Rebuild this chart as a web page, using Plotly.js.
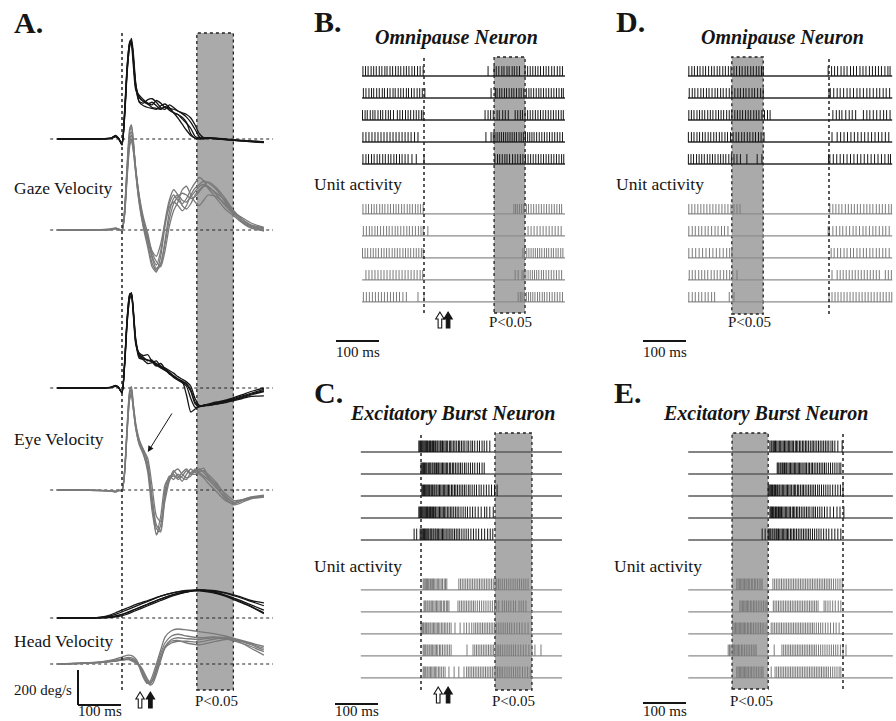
<!DOCTYPE html>
<html>
<head>
<meta charset="utf-8">
<script src="https://cdn.plot.ly/plotly-3.0.1.min.js"></script>
<style>
  html, body { margin: 0; padding: 0; background: #fff; }
  #fig { width: 896px; height: 721px; }
</style>
</head>
<body>
<div id="fig"></div>
<script>
// ---------------- Panel A: velocity traces (deg/s), time in ms from gaze onset ----------------
const tSacc = [-150,-100,-50,-25,-15,-8,0,6,12,18,22,26,32,40,50,60,70,80,90,100,110,120,130,140,150,160,170,180,190,200,220,240,260,280,300,330];
const tHead = [-150,-100,-70,-50,-30,-10,10,30,60,90,120,150,180,210,240,270,300,330];
const tHeadGray = [-150,-100,-50,-20,0,15,25,35,42,50,58,65,72,80,90,100,115,130,150,180,210,240,270,300,330];

const gazeVelBlack = [
  [0,0,2,5,20,5,-30,150,400,550,560,470,300,235,215,200,210,190,170,185,165,150,140,115,90,60,15,5,5,8,5,0,-5,-8,-12,-15],
  [0,1,0,4,15,0,-25,120,380,540,575,500,320,210,190,180,175,170,190,200,180,150,120,85,50,20,5,0,5,6,3,-2,-6,-10,-14,-18],
  [0,0,1,6,18,3,-35,140,410,560,540,430,280,250,225,205,195,220,205,180,175,170,160,145,125,95,55,12,0,4,2,-3,-8,-12,-16,-20],
  [0,-1,0,3,12,2,-28,130,390,530,555,480,310,240,215,200,180,175,170,185,175,150,140,125,95,30,5,8,6,5,0,-4,-8,-10,-12,-16],
  [0,0,1,5,16,4,-30,160,420,545,550,460,290,215,205,225,230,210,180,170,195,180,160,150,140,120,80,30,8,5,2,-2,-6,-9,-13,-17]
];
const gazeVelGray = [
  [0,0,2,5,10,5,0,120,380,580,600,520,330,150,10,-100,-210,-240,-150,20,150,200,170,150,180,230,270,300,280,240,180,120,80,40,10,-5],
  [0,0,1,4,8,3,-5,100,350,540,560,500,350,180,30,-80,-190,-230,-200,-60,100,180,200,170,160,190,220,250,260,250,200,140,90,50,20,0],
  [0,1,0,3,7,4,0,90,320,500,520,460,320,160,20,-60,-150,-200,-120,50,170,230,200,140,120,150,200,230,250,245,210,170,100,60,30,10],
  [0,0,2,6,12,6,-3,110,360,560,590,520,340,170,40,-50,-120,-150,-80,40,130,160,140,110,140,200,240,260,280,270,230,160,95,45,15,-5],
  [0,0,1,4,9,4,0,95,330,520,540,490,350,190,50,-40,-160,-220,-190,-80,60,150,190,210,200,180,190,220,250,275,240,180,110,60,25,5],
  [0,0,1,3,8,2,0,80,300,480,510,460,340,200,70,-20,-130,-180,-210,-120,20,110,160,230,250,200,160,140,170,200,190,150,100,70,40,15]
];
const eyeVelBlack = [
  [0,0,1,4,15,3,-25,140,390,530,540,440,260,170,165,160,150,140,120,110,90,70,50,35,20,-20,-90,-105,-100,-98,-90,-80,-65,-50,-35,-15],
  [0,0,0,3,12,2,-30,120,370,520,545,460,280,190,175,155,160,130,115,100,85,60,45,30,10,-60,-110,-108,-100,-95,-85,-75,-60,-45,-30,-8],
  [0,1,0,5,14,4,-28,150,400,540,530,430,250,200,185,190,150,125,140,110,80,65,50,40,-40,-137,-120,-105,-100,-97,-88,-78,-68,-55,-40,-20],
  [0,0,1,3,10,1,-22,130,380,510,525,450,270,180,160,140,145,155,125,115,100,85,65,50,35,10,-60,-100,-104,-100,-92,-84,-72,-60,-48,-45],
  [0,0,0,4,13,3,-26,135,395,535,535,445,265,185,170,160,150,135,118,105,88,68,52,38,25,-10,-80,-102,-98,-92,-80,-70,-55,-38,-20,0]
];
const eyeVelGray = [
  [0,0,-3,-5,-8,-2,0,110,370,570,590,500,370,280,210,100,-120,-250,-150,30,70,90,60,80,110,90,120,100,80,60,10,-40,-70,-55,-40,-30],
  [0,0,-2,-4,-10,-3,-5,100,350,550,570,480,360,270,230,150,-40,-200,-230,0,80,60,90,70,60,100,110,90,70,40,-10,-60,-80,-60,-45,-35],
  [0,-1,-3,-6,-12,-4,-2,90,330,520,540,470,350,260,200,120,-80,-257,-200,-20,60,110,80,50,90,120,100,115,125,80,20,-50,-85,-70,-50,-40],
  [0,0,-2,-5,-9,-2,0,105,360,560,575,490,380,290,229,180,20,-150,-180,-60,50,100,120,90,70,80,110,120,100,70,30,-20,-60,-55,-45,-35],
  [0,0,-3,-4,-7,-1,-3,95,340,530,555,470,355,265,215,130,-60,-220,-240,-40,69,80,70,100,120,95,90,105,110,90,40,-30,-75,-60,-48,-38]
];
const headVelBlack = [
  [0,0,0,2,10,25,45,65,95,125,145,155,155,145,125,95,65,30],
  [0,0,1,3,6,15,30,50,80,110,135,150,158,150,130,105,75,45],
  [0,0,0,1,3,8,20,40,70,100,128,148,158,155,142,120,95,70],
  [0,0,1,5,15,35,55,75,100,125,145,158,160,150,130,100,65,25],
  [0,0,0,1,4,12,28,48,78,108,132,150,160,158,145,125,100,86]
];
const headVelGray = [
  [0,5,12,25,40,51,45,20,-30,-80,-110,-100,-60,0,80,154,190,200,195,185,175,160,140,120,100],
  [0,3,8,15,22,25,15,0,-20,-60,-100,-115,-90,-30,40,100,140,150,145,140,150,145,125,100,70],
  [0,4,10,18,25,28,20,5,-15,-50,-90,-120,-110,-60,20,90,120,130,130,125,140,150,130,90,51],
  [0,3,9,16,24,30,25,10,-10,-40,-80,-105,-95,-45,30,95,130,135,120,110,125,140,135,115,90],
  [0,4,11,20,30,38,32,12,-20,-70,-108,-110,-80,-20,60,120,160,170,160,150,155,150,135,110,80]
];

// significance windows (ms), eye / head onset markers (ms)
const sigWindowA = [174, 259];
const onsetMarksA = [42, 66];
const shoulderA = [60, 217];   // eye-velocity shoulder picked out by the arrow (ms, deg/s)

// ---------------- Spike rasters (spike times, ms) ----------------
// B: omnipause neuron, aligned on gaze onset
const opnOnsetBlack = [
  [-142,-136,-130,-123,-117,-111,-104,-98,-91,-86,-79,-73,-66,-60,-54,-47,-41,-35,-28,-22,-15,-9,-2,149,163,168,174,181,186,193,198,205,210,216,222,235,241,247,253,259,265,271,278,284,290,297,303,310,316,322],
  [-141,-135,-128,-122,-117,-110,-104,-97,-92,-85,-79,-72,-67,-60,-54,-48,-41,-36,-29,-23,-16,-10,-4,2,156,166,170,176,181,187,192,198,204,209,215,221,226,232,238,244,249,255,261,267,272,278,284,290,296,302,308,314,320,324],
  [-143,-137,-132,-125,-119,-114,-107,-101,-96,-89,-83,-78,-71,-62,-56,-50,-43,-37,-31,-24,-18,-12,-6,-2,142,149,155,161,170,175,183,189,196,212,218,224,229,235,241,247,253,259,265,271,277,283,289,295,301,307,313,319,324],
  [-142,-135,-128,-121,-114,-107,-100,-93,-86,-79,-72,-65,-58,-51,-44,-37,-30,-22,-14,144,156,161,165,170,175,180,185,190,195,200,205,210,215,221,226,231,236,241,246,251,256,262,268,274,280,286,292,298,304,310,316,322],
  [-142,-135,-129,-122,-116,-109,-103,-96,-90,-83,-77,-70,-64,-57,-51,-44,-37,-28,-18,0,165,171,176,182,188,193,199,206,212,218,224,230,236,242,248,254,260,266,272,278,284,290,296,302,308,314,320,325]
];
const opnOnsetGray = [
  [-142,-135,-129,-122,-116,-110,-103,-97,-91,-84,-78,-71,-65,-59,-52,-46,-39,-33,-27,-20,-14,-8,-2,209,213,217,222,227,232,238,243,249,255,261,267,273,279,285,291,297,303,309,315,320],
  [-141,-134,-127,-121,-114,-108,-101,-94,-87,-81,-74,-67,-61,-54,-47,-40,-34,-27,-20,-13,-7,-2,9,242,249,256,263,270,277,284,291,298,305,312,319],
  [-143,-137,-131,-124,-118,-112,-106,-99,-93,-87,-81,-74,-68,-62,-56,-49,-43,-37,-31,-24,-18,-12,-6,-2,230,234,239,244,249,254,259,264,269,274,280,285,290,296,301,307,312,318,323],
  [-135,-128,-121,-114,-107,-100,-93,-86,-79,-72,-65,-58,-51,-44,-37,-30,-23,-16,-9,-3,212,219,228,232,237,242,247,252,257,262,267,273,278,284,290,296,302,308,314,320],
  [-141,-134,-127,-120,-113,-106,-99,-92,-85,-78,-71,-64,-57,-49,-41,-14,0,219,224,228,233,238,243,248,253,258,264,269,275,280,286,292,298,304,310,316,322]
];
const recordSpanB = [-144, 328];
const sigWindowB = [163, 235];
const onsetMarksB = [37, 56];

// C: excitatory burst neuron, aligned on gaze onset
const ebnOnsetBlack = [
  [-5,-3,-1,1,3,5,7,9,11,13,15,18,20,22,25,27,29,32,34,37,39,42,45,47,50,53,56,59,62,66,69,72,76,79,83,87,90,94,98,102,107,111,116,120,125,131,136,142,147,153,160],
  [0,2,4,6,8,10,12,14,17,19,21,23,26,28,31,33,36,39,41,44,47,50,53,56,59,62,66,69,73,76,80,84,88,92,96,101,105,110,115,120,125,131,136,142,147],
  [2,4,6,8,10,12,14,16,18,20,23,25,27,30,32,35,37,40,43,46,49,52,55,58,61,64,67,71,74,78,81,85,89,93,97,101,105,110,114,119,124,129,135,140,146,152,158,164,171,177],
  [-5,-3,-1,1,3,5,7,9,11,13,15,17,20,22,24,27,29,32,34,37,40,43,46,49,52,55,58,62,65,69,72,76,80,84,88,93,98,103,108,114,120,126,133,140,148,153,160,168],
  [-16,-10,-2,0,2,4,6,8,10,12,14,16,18,21,23,25,28,30,33,35,38,41,44,47,50,53,56,60,63,67,70,74,78,82,86,90,95,100,105,110,116,122,128,134,141,148,155,161,167]
];
const ebnOnsetGray = [
  [5,7,9,11,13,15,17,19,22,24,27,29,32,35,38,41,44,47,50,54,57,60,88,92,96,100,104,108,112,116,120,124,128,132,136,140,144,148,152,156,160,164,168,172,176,180,184,189,194,199,204,209,214,219,224,229,234,239,244,249],
  [7,9,11,14,16,19,21,24,27,30,33,36,39,42,45,48,52,55,59,62,65,86,90,94,98,102,106,110,114,118,122,126,131,136,141,146,151,156,161,166,171,176,181,189,194,199,204,209,215,220,228,233,238,244],
  [0,2,4,6,9,11,13,16,18,21,23,26,29,32,35,38,41,44,48,51,55,58,62,66,70,79,91,100,106,112,118,123,127,131,135,139,143,147,151,155,159,163,167,171,176,181,186,191,196,201,206,211,217,223,229,235,242,249],
  [5,7,9,11,14,16,19,21,24,27,30,33,36,39,43,46,50,54,58,62,66,70,107,121,125,129,133,137,141,145,149,153,157,161,165,169,173,177,181,185,190,195,200,205,210,215,220,226,232,238,244,251,258,265,279],
  [5,7,9,11,14,16,19,22,25,28,31,34,37,41,44,48,52,56,65,77,88,100,106,110,114,118,122,126,130,134,138,142,146,150,154,158,162,166,170,174,178,182,186,190,195,200,205,210,215,220,225,230,236,242,248,254]
];
const recordSpanC = [-140, 328];
const sigWindowC = [172, 258];
const onsetMarksC = [40, 63];

// D: omnipause neuron, aligned on gaze end
const opnEndBlack = [
  [-326,-319,-313,-306,-300,-293,-287,-280,-273,-267,-260,-254,-247,-241,-234,-228,-221,-215,-208,-202,-195,-189,-182,-176,-169,-163,-157,-153,-2,6,13,20,28,35,42,50,57,64,72,79,86,94,101,108,115,122,130,137,142],
  [-325,-318,-312,-305,-298,-292,-285,-279,-272,-265,-259,-252,-246,-239,-232,-226,-219,-212,-206,-199,-193,-186,-179,-173,-166,-159,-153,0,3,11,19,26,34,42,49,57,65,72,80,88,95,103,111,118,126,133,141],
  [-326,-320,-314,-307,-301,-295,-289,-282,-276,-270,-263,-257,-251,-245,-238,-232,-226,-219,-213,-207,-201,-194,-188,-182,-175,-169,-163,-156,-150,-143,-137,9,17,24,30,39,47,54,62,80,88,95,103,111,119,127,134,142],
  [-327,-320,-314,-307,-301,-294,-288,-281,-275,-268,-262,-255,-249,-242,-236,-229,-223,-216,-210,-203,-197,-190,-184,-177,-171,-164,-158,-151,7,19,27,35,43,51,59,67,75,83,91,99,107,115,123,131,139],
  [-327,-321,-315,-308,-302,-296,-290,-283,-277,-271,-265,-258,-252,-246,-240,-233,-227,-221,-214,-206,-191,-167,-156,-1,2,10,18,26,34,42,50,58,66,74,82,90,98,106,114,122,130,138,143]
];
const opnEndGray = [
  [-326,-319,-312,-305,-298,-291,-284,-277,-270,-263,-256,-249,-242,-235,-228,-221,-214,-207,2,9,16,23,30,38,45,52,59,66,73,81,88,95,102,110,117,124,131,139,145],
  [-326,-318,-311,-303,-296,-288,-281,-273,-265,-258,-250,-243,-235,-2,1,9,17,25,32,40,48,56,63,71,79,86,94,102,109,117,125,132,140],
  [-326,-318,-310,-302,-294,-286,-278,-270,-262,-254,-246,-238,-231,-226,5,12,20,27,35,42,50,57,65,72,80,87,95,102,110,117,125,132,140],
  [-325,-318,-311,-303,-296,-289,-282,-274,-267,-260,-253,-245,-238,-231,-224,-214,7,19,26,33,40,47,54,61,68,75,82,89,96,103,110,117,131,138,145],
  [-326,-318,-311,-303,-296,-288,-281,-273,-266,-232,-221,0,7,14,21,28,35,42,49,56,63,70,77,84,91,98,105,112,119,126,133,140,146]
];
const recordSpanD = [-328, 147];
const sigWindowD = [-226, -153];

// E: excitatory burst neuron, aligned on gaze end
const ebnEndBlack = [
  [-170,-167,-165,-162,-159,-157,-154,-151,-148,-145,-142,-139,-136,-133,-130,-127,-124,-121,-118,-115,-111,-108,-105,-101,-98,-94,-91,-87,-84,-80,-76,-72,-69,-65,-61,-57,-53,-49,-45,-41,-37,-33,-28,-24,-19,-12,-2],
  [-153,-151,-149,-146,-144,-141,-139,-136,-133,-131,-128,-125,-122,-119,-116,-113,-110,-107,-104,-101,-98,-95,-91,-88,-85,-81,-78,-74,-71,-67,-63,-59,-55,-51,-47,-43,-39,-34,-29,-24,-19,-14,-9,-5],
  [-174,-172,-170,-168,-166,-164,-161,-159,-157,-154,-152,-149,-147,-144,-141,-138,-135,-132,-129,-126,-123,-120,-116,-113,-110,-106,-103,-99,-95,-92,-88,-84,-80,-76,-72,-68,-64,-59,-55,-50,-45,-40,-35,-30,-24,-18,-12,-6,0],
  [-170,-168,-166,-164,-162,-160,-157,-155,-153,-150,-148,-145,-143,-140,-137,-134,-131,-128,-125,-122,-118,-115,-112,-108,-105,-101,-97,-93,-89,-85,-81,-77,-72,-68,-64,-59,-54,-49,-43,-37,-30,-22,-14,-7,2],
  [-188,-181,-174,-172,-170,-168,-165,-163,-160,-158,-155,-153,-150,-147,-144,-141,-138,-135,-132,-129,-126,-122,-119,-115,-112,-108,-104,-100,-96,-92,-88,-84,-80,-76,-71,-66,-61,-56,-51,-45,-39,-33,-26,-19,-12,-5]
];
const ebnEndGray = [
  [-247,-244,-241,-238,-235,-232,-229,-226,-223,-220,-217,-213,-210,-206,-203,-199,-195,-191,-188,-163,-159,-155,-151,-147,-143,-139,-135,-131,-127,-123,-119,-115,-111,-107,-103,-99,-95,-91,-87,-83,-79,-75,-71,-67,-63,-59,-55,-51,-47,-43,-39,-35,-31,-27,-22,-17,-12,-7,-2],
  [-240,-237,-234,-231,-228,-225,-222,-219,-215,-212,-208,-205,-201,-197,-193,-189,-185,-181,-177,-162,-158,-154,-150,-146,-142,-138,-134,-130,-126,-122,-118,-114,-110,-106,-102,-98,-94,-90,-86,-82,-78,-74,-70,-66,-62,-58,-44,-40,-35,-30,-24,-18,-11,-5],
  [-256,-253,-250,-247,-244,-241,-238,-235,-232,-229,-226,-222,-219,-215,-212,-208,-204,-200,-196,-192,-188,-184,-179,-167,-163,-159,-155,-151,-147,-143,-139,-135,-131,-127,-123,-119,-115,-111,-107,-103,-99,-95,-91,-87,-83,-79,-75,-71,-67,-62,-57,-52,-47,-41,-35,-29,-22,-16,-9],
  [-267,-264,-261,-258,-255,-252,-249,-246,-243,-240,-236,-233,-229,-225,-221,-217,-213,-209,-205,-202,-160,-142,-138,-134,-130,-126,-122,-118,-114,-110,-106,-102,-98,-94,-90,-86,-82,-78,-74,-70,-66,-62,-57,-52,-47,-42,-37,-32,-27,-22,-17,-12,-6,0,7],
  [-247,-244,-241,-238,-235,-232,-229,-226,-223,-220,-216,-213,-209,-205,-201,-197,-193,-189,-186,-167,-158,-154,-150,-146,-142,-138,-134,-130,-126,-122,-118,-114,-110,-106,-102,-98,-94,-90,-86,-82,-78,-74,-70,-66,-62,-58,-54,-50,-46,-42,-38,-34,-29,-24,-19,-14,-9,-5]
];
const recordSpanE = [-360, 116];
const sigWindowE = [-258, -174];

const SCALE_MS = 100;      // time scale bar
const SCALE_DEG = 200;     // velocity scale bar

// ---------------- figure geometry & styles ----------------
const W = 896, H = 721;
const MS_PX = 0.43;        // pixels per ms (all panels)
const DEG_PX = 0.175;      // pixels per deg/s (panel A)
const ROW_PX = 22;         // raster row pitch
const GRAY_ROW0 = 6.27;    // first row of the lower raster block, in rows
const SERIF = 'Liberation Serif, Times New Roman, serif';
const INK = '#151515', GREY = '#7a7a7a', SHADE = '#aaaaaa';

const xDom = (p0, p1) => [p0 / W, p1 / W];
const yDom = (top, bottom) => [1 - bottom / H, 1 - top / H];
const px = v => v / W, py = v => 1 - v / H;
const hidden = (domain, range) => ({domain, range, visible: false, fixedrange: true});

const data = [], shapes = [], annotations = [];
const layout = {
  width: W, height: H,
  margin: {l: 0, r: 0, t: 0, b: 0},
  paper_bgcolor: '#ffffff', plot_bgcolor: 'rgba(0,0,0,0)',
  showlegend: false,
  font: {family: SERIF, color: INK}
};

function text(str, x, y, size, opts) {
  annotations.push(Object.assign({
    text: str, xref: 'paper', yref: 'paper', x: px(x), y: py(y),
    showarrow: false, xanchor: 'left', yanchor: 'middle',
    font: {family: SERIF, size: size, color: INK}
  }, opts || {}));
}

const dotted = {color: '#222', width: 1.5, dash: 'dot'};
const ARROW_PATH = 'M-1.8,0 L-1.8,9 L-4.2,9 L0,16 L4.2,9 L1.8,9 L1.8,0 Z';
function onsetArrows(xref, marks, bottomPx) {
  marks.forEach((t, i) => shapes.push({
    type: 'path', xref: xref, yref: 'paper',
    xsizemode: 'pixel', ysizemode: 'pixel', xanchor: t, yanchor: py(bottomPx),
    path: ARROW_PATH, fillcolor: i === 0 ? '#ffffff' : INK,
    line: {color: INK, width: 1.1}, layer: 'above'
  }));
}

// ---------------- Panel A ----------------
const A = {x0: 0, x1: 300, zero: 122, top: 25, bottom: 715};
layout.xaxis = hidden(xDom(A.x0, A.x1), [(A.x0 - A.zero) / MS_PX, (A.x1 - A.zero) / MS_PX]);
layout.yaxis = hidden(yDom(A.top, A.bottom), [0, (A.bottom - A.top) / DEG_PX]);
const levelA = p => (A.bottom - p) / DEG_PX;   // screen row -> value on A's stacked axis

const groupsA = [
  {t: tSacc, traces: gazeVelBlack, base: levelA(139), color: INK},
  {t: tSacc, traces: gazeVelGray, base: levelA(230), color: GREY},
  {t: tSacc, traces: eyeVelBlack, base: levelA(388), color: INK},
  {t: tSacc, traces: eyeVelGray, base: levelA(490), color: GREY},
  {t: tHead, traces: headVelBlack, base: levelA(618), color: INK},
  {t: tHeadGray, traces: headVelGray, base: levelA(664), color: GREY}
];
const spanTop = levelA(33), spanBottom = levelA(690);

shapes.push({type: 'rect', xref: 'x', yref: 'y', x0: sigWindowA[0], x1: sigWindowA[1],
  y0: spanBottom, y1: spanTop, fillcolor: SHADE, line: {color: '#222', width: 1.3, dash: 'dot'}, layer: 'below'});
groupsA.forEach(g => shapes.push({type: 'line', xref: 'x', yref: 'y', x0: -167, x1: 351,
  y0: g.base, y1: g.base, line: {color: '#222', width: 1.2, dash: 'dot'}, layer: 'below'}));
shapes.push(Object.assign({type: 'line', xref: 'x', yref: 'y', x0: 0, x1: 0, y0: spanBottom, y1: spanTop,
  line: dotted, layer: 'above'}));

groupsA.forEach(g => g.traces.forEach(v => data.push({
  type: 'scatter', mode: 'lines', xaxis: 'x', yaxis: 'y',
  x: g.t, y: v.map(d => g.base + d),
  line: {color: g.color, width: 1.3, shape: 'spline', smoothing: 0.6},
  hoverinfo: 'skip'
})));

// scale bars of A
const barT = (78 - A.zero) / MS_PX, barY = levelA(705);
shapes.push({type: 'line', xref: 'x', yref: 'y', x0: barT, x1: barT + SCALE_MS, y0: barY, y1: barY,
  line: {color: INK, width: 2}, layer: 'above'});
shapes.push({type: 'line', xref: 'x', yref: 'y', x0: barT, x1: barT, y0: barY, y1: barY + SCALE_DEG,
  line: {color: INK, width: 2}, layer: 'above'});
onsetArrows('x', onsetMarksA, 708);

annotations.push({xref: 'x', yref: 'y', x: shoulderA[0], y: groupsA[3].base + shoulderA[1],
  text: '', showarrow: true, ax: 25, ay: -40, arrowhead: 2, arrowsize: 1.2, arrowwidth: 1,
  arrowcolor: INK, standoff: 0});

text('<b>A.</b>', 12, 23, 30);
text('Gaze Velocity', 12, 188, 17.5);
text('Eye Velocity', 12, 439, 17.5);
text('Head Velocity', 12, 641, 17.5);
text('200 deg/s', 74, 690, 15, {xanchor: 'right'});
text('100 ms', 100, 711, 15, {xanchor: 'center'});
text('P&lt;0.05', 216, 701, 15, {xanchor: 'center'});

// ---------------- Raster panels ----------------
function rasterPanel(p) {
  const xa = 'x' + p.id, ya = 'y' + p.id;
  layout['xaxis' + p.id] = hidden(xDom(p.x0, p.x1), [(p.x0 - p.zero) / MS_PX, (p.x1 - p.zero) / MS_PX]);
  layout['yaxis' + p.id] = hidden(yDom(p.top, p.bottom), [(p.bottom - p.row0) / ROW_PX, (p.top - p.row0) / ROW_PX]);

  shapes.push({type: 'rect', xref: xa, yref: ya + ' domain', x0: p.window[0], x1: p.window[1], y0: 0, y1: 1,
    fillcolor: SHADE, line: {color: '#222', width: 1.3, dash: 'dot'}, layer: 'below'});
  shapes.push({type: 'line', xref: xa, yref: ya + ' domain', x0: 0, x1: 0, y0: 0, y1: 1, line: dotted, layer: 'above'});

  const blocks = [
    {rows: p.upper, r0: 0, color: INK, base: p.upperBase},
    {rows: p.lower, r0: GRAY_ROW0, color: GREY, base: '#8c8c8c'}
  ];
  blocks.forEach(b => b.rows.forEach((spikes, k) => {
    const r = b.r0 + k;
    data.push({type: 'scatter', mode: 'lines', xaxis: xa, yaxis: ya, x: p.span, y: [r, r],
      line: {color: b.base, width: 1.3}, hoverinfo: 'skip'});
    const xs = [], ys = [];
    spikes.forEach(t => { xs.push(t, t, null); ys.push(r, r - p.tick, null); });
    data.push({type: 'scatter', mode: 'lines', xaxis: xa, yaxis: ya, x: xs, y: ys,
      line: {color: b.color, width: 1}, hoverinfo: 'skip'});
  }));

  const t0 = (p.barPx - p.zero) / MS_PX;
  shapes.push({type: 'line', xref: xa, yref: 'paper', x0: t0, x1: t0 + SCALE_MS, y0: py(p.barY), y1: py(p.barY),
    line: {color: INK, width: 2}, layer: 'above'});
  if (p.marks) onsetArrows(xa, p.marks, p.markY);

  text('<b>' + p.letter + '</b>', p.letterX, p.letterY, 30);
  text(p.title, p.titleX, p.titleY, 20, {xanchor: 'center',
    font: {family: SERIF, size: 20, color: INK, weight: 'bold', style: 'italic'}});
  text('Unit activity', p.letterX, p.unitY, 17.5);
  text('P&lt;0.05', p.pX, p.pY, 15, {xanchor: 'center'});
  text('100 ms', p.barPx + 22, Math.min(p.barY + 11, 711), 15, {xanchor: 'center'});
}

rasterPanel({id: 2, letter: 'B.', title: 'Omnipause Neuron', x0: 320, x1: 590, zero: 424, top: 57, bottom: 313, row0: 76,
  upper: opnOnsetBlack, lower: opnOnsetGray, upperBase: '#2a2a2a', span: recordSpanB, window: sigWindowB, tick: 0.45,
  marks: onsetMarksB, markY: 328, barPx: 336, barY: 341,
  letterX: 312, letterY: 22, titleX: 456, titleY: 38, unitY: 184, pX: 510, pY: 322});
rasterPanel({id: 3, letter: 'C.', title: 'Excitatory Burst Neuron', x0: 320, x1: 590, zero: 421, top: 433, bottom: 690, row0: 452,
  upper: ebnOnsetBlack, lower: ebnOnsetGray, upperBase: '#5a5a5a', span: recordSpanC, window: sigWindowC, tick: 0.52,
  marks: onsetMarksC, markY: 703, barPx: 335, barY: 704,
  letterX: 312, letterY: 392, titleX: 453, titleY: 413, unitY: 566, pX: 513, pY: 701});
rasterPanel({id: 4, letter: 'D.', title: 'Omnipause Neuron', x0: 625, x1: 896, zero: 829, top: 57, bottom: 314, row0: 76,
  upper: opnEndBlack, lower: opnEndGray, upperBase: '#2a2a2a', span: recordSpanD, window: sigWindowD, tick: 0.45,
  marks: null, barPx: 643, barY: 341,
  letterX: 614, letterY: 22, titleX: 782, titleY: 38, unitY: 184, pX: 749, pY: 322});
rasterPanel({id: 5, letter: 'E.', title: 'Excitatory Burst Neuron', x0: 625, x1: 896, zero: 843, top: 433, bottom: 689, row0: 452,
  upper: ebnEndBlack, lower: ebnEndGray, upperBase: '#5a5a5a', span: recordSpanE, window: sigWindowE, tick: 0.52,
  marks: null, barPx: 643, barY: 703,
  letterX: 612, letterY: 392, titleX: 765, titleY: 413, unitY: 566, pX: 751, pY: 701});

layout.shapes = shapes;
layout.annotations = annotations;
Plotly.newPlot('fig', data, layout, {staticPlot: true, displayModeBar: false});
</script>
</body>
</html>
